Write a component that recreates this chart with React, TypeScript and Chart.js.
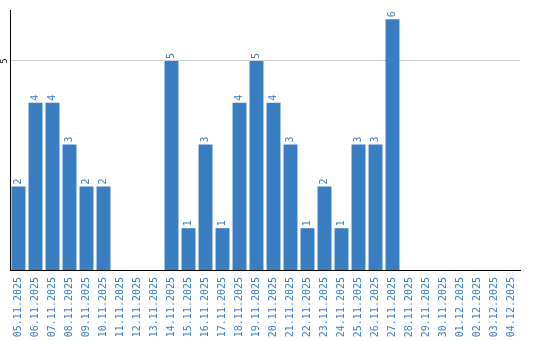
import React, { useEffect, useRef } from "react";
import { Chart, registerables } from "chart.js";

Chart.register(...registerables);

const categories = [
  "05.11.2025", "06.11.2025", "07.11.2025", "08.11.2025", "09.11.2025",
  "10.11.2025", "11.11.2025", "12.11.2025", "13.11.2025", "14.11.2025",
  "15.11.2025", "16.11.2025", "17.11.2025", "18.11.2025", "19.11.2025",
  "20.11.2025", "21.11.2025", "22.11.2025", "23.11.2025", "24.11.2025",
  "25.11.2025", "26.11.2025", "27.11.2025", "28.11.2025", "29.11.2025",
  "30.11.2025", "01.12.2025", "02.12.2025", "03.12.2025", "04.12.2025",
];

const counts = [
  2, 4, 4, 3, 2, 2, 0, 0, 0, 5,
  1, 3, 1, 4, 5, 4, 3, 1, 2, 1,
  3, 3, 6, 0, 0, 0, 0, 0, 0, 0,
];

const yTickValues = [5];

const BLUE = "#3a7ec2";

const labelPlugin = {
  id: "valueLabels",
  afterDatasetsDraw(chart: any) {
    const ctx = chart.ctx;
    const meta = chart.getDatasetMeta(0);
    ctx.save();
    ctx.fillStyle = BLUE;
    ctx.font = "10px 'DejaVu Sans Mono'";
    ctx.textAlign = "left";
    ctx.textBaseline = "middle";
    meta.data.forEach((bar: any, i: number) => {
      const v = counts[i];
      if (!v) return;
      ctx.save();
      ctx.translate(bar.x, bar.y - 2);
      ctx.rotate(-Math.PI / 2);
      ctx.fillText(String(v), 0, 0);
      ctx.restore();
    });
    const ys = chart.scales.y;
    ctx.fillStyle = "#000";
    ctx.font = "8px 'DejaVu Sans'";
    ctx.textAlign = "center";
    yTickValues.forEach((t) => {
      const py = ys.getPixelForValue(t);
      ctx.save();
      ctx.translate(ys.left - 5, py);
      ctx.rotate(-Math.PI / 2);
      ctx.fillText(String(t), 0, 0);
      ctx.restore();
    });
    ctx.restore();
  },
};

export default function App() {
  const ref = useRef<HTMLCanvasElement>(null);
  useEffect(() => {
    if (!ref.current) return;
    const chart = new Chart(ref.current, {
      type: "bar",
      data: {
        labels: categories,
        datasets: [
          {
            data: counts,
            backgroundColor: BLUE,
            borderWidth: 0,
            categoryPercentage: 1,
            barPercentage: 0.82,
          },
        ],
      },
      options: {
        animation: false,
        responsive: false,
        maintainAspectRatio: false,
        layout: { padding: { left: 10, top: 10, right: 20, bottom: 0 } },
        plugins: {
          legend: { display: false },
          tooltip: { enabled: false },
        },
        scales: {
          x: {
            grid: { display: false, drawTicks: false },
            border: { display: true, color: "#000", width: 1 },
            afterFit: (s: any) => {
              s.height = 70;
            },
            ticks: {
              color: BLUE,
              font: { family: "'DejaVu Sans Mono'", size: 10 },
              minRotation: 90,
              maxRotation: 90,
              autoSkip: false,
              padding: 7,
            },
          },
          y: {
            min: 0,
            max: 6.22,
            afterBuildTicks: (scale: any) => {
              scale.ticks = yTickValues.map((v) => ({ value: v }));
            },
            grid: { color: "#cccccc", drawTicks: false },
            border: { display: true, color: "#000", width: 1 },
            ticks: { display: false },
          },
        },
      },
      plugins: [labelPlugin],
    });
    return () => chart.destroy();
  }, []);
  return (
    <div style={{ position: "fixed", left: 0, top: 0, width: 540, height: 340, background: "#fff" }}>
      <canvas ref={ref} width={540} height={340} style={{ width: 540, height: 340 }} />
    </div>
  );
}
